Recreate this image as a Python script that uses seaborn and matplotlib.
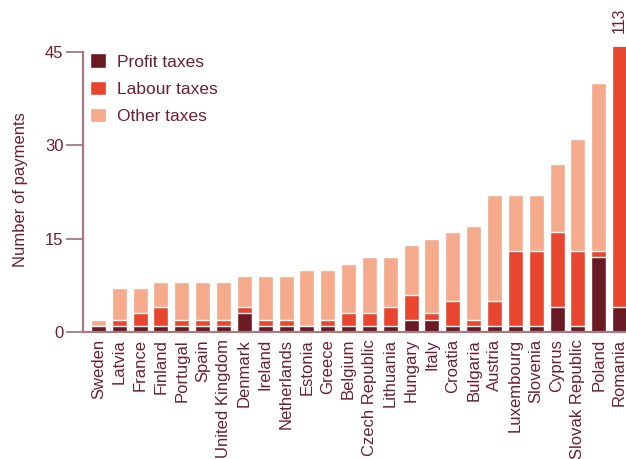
import matplotlib
matplotlib.use("Agg")
import matplotlib.pyplot as plt
import seaborn as sns
import numpy as np
import pandas as pd

countries = ["Sweden", "Latvia", "France", "Finland", "Portugal", "Spain",
             "United Kingdom", "Denmark", "Ireland", "Netherlands", "Estonia",
             "Greece", "Belgium", "Czech Republic", "Lithuania", "Hungary",
             "Italy", "Croatia", "Bulgaria", "Austria", "Luxembourg", "Slovenia",
             "Cyprus", "Slovak Republic", "Poland", "Romania"]
profit = [1, 1, 1, 1, 1, 1, 1, 3, 1, 1, 1, 1, 1, 1, 1, 2, 2, 1, 1, 1, 1, 1, 4, 1, 12, 4]
labour = [0, 1, 2, 3, 1, 1, 1, 1, 1, 1, 0, 1, 2, 2, 3, 4, 1, 4, 1, 4, 12, 12, 12, 12, 1, 109]
other = [1, 5, 4, 4, 6, 6, 6, 5, 7, 7, 9, 8, 8, 9, 8, 8, 12, 11, 15, 17, 9, 9, 11, 18, 27, 0]

C_PROFIT = "#6a1a22"
C_LABOUR = "#e8462f"
C_OTHER = "#f5aa8b"
TXT = "#6b2030"
AX = "#a57a80"

df = pd.DataFrame({"country": countries, "profit": profit, "labour": labour, "other": other})
df["pl"] = df["profit"] + df["labour"]
df["total"] = df["pl"] + df["other"]

sns.set_style("white")
plt.rcParams["font.family"] = ["Liberation Sans", "DejaVu Sans"]

fig = plt.figure(figsize=(6.26, 4.59), dpi=100)
ax = fig.add_axes([83 / 626, 127 / 459, 1 - 83 / 626, (332 - 47) / 459])

sns.barplot(data=df, x="country", y="total", color=C_OTHER, width=0.72,
            saturation=1, ax=ax, label="Other taxes")
sns.barplot(data=df, x="country", y="pl", color=C_LABOUR, width=0.72,
            saturation=1, ax=ax, label="Labour taxes")
sns.barplot(data=df, x="country", y="profit", color=C_PROFIT, width=0.72,
            saturation=1, ax=ax, label="Profit taxes")

ax.set_ylim(0, 45.8)
ax.set_xlim(-0.74, len(countries) - 1 + 0.31)
ax.set_yticks([0, 15, 30, 45])
ax.tick_params(axis="y", length=12, width=1.3, color=AX, labelcolor=TXT,
               labelsize=12, pad=2, left=True)
ax.tick_params(axis="x", length=0, labelcolor=TXT, labelsize=12, pad=5)
plt.setp(ax.get_xticklabels(), rotation=90)
for s in ["top", "right"]:
    ax.spines[s].set_visible(False)
for s in ["left", "bottom"]:
    ax.spines[s].set_color(AX)
    ax.spines[s].set_linewidth(1.6)
ax.spines["left"].set_bounds(0, 45)
ax.set_xlabel("")
ax.set_ylabel("Number of payments", color=TXT, fontsize=12, labelpad=12)

ri = len(countries) - 1
ax.text(ri, 48.0, str(df["total"].iloc[-1]), rotation=90, ha="center", va="bottom",
        color=TXT, fontsize=11.5, clip_on=False)

handles, labels = ax.get_legend_handles_labels()
order = [labels.index("Profit taxes"), labels.index("Labour taxes"), labels.index("Other taxes")]
leg = ax.legend([handles[i] for i in order], [labels[i] for i in order],
                loc="upper left", bbox_to_anchor=(87 / 626, 1 - 50 / 459),
                bbox_transform=fig.transFigure, frameon=False,
                fontsize=12.5, handlelength=0.92, handleheight=0.92, handletextpad=0.6,
                labelspacing=0.62, borderaxespad=0.0, borderpad=0.2)
for t in leg.get_texts():
    t.set_color(TXT)

fig.savefig("out.png", dpi=100)
